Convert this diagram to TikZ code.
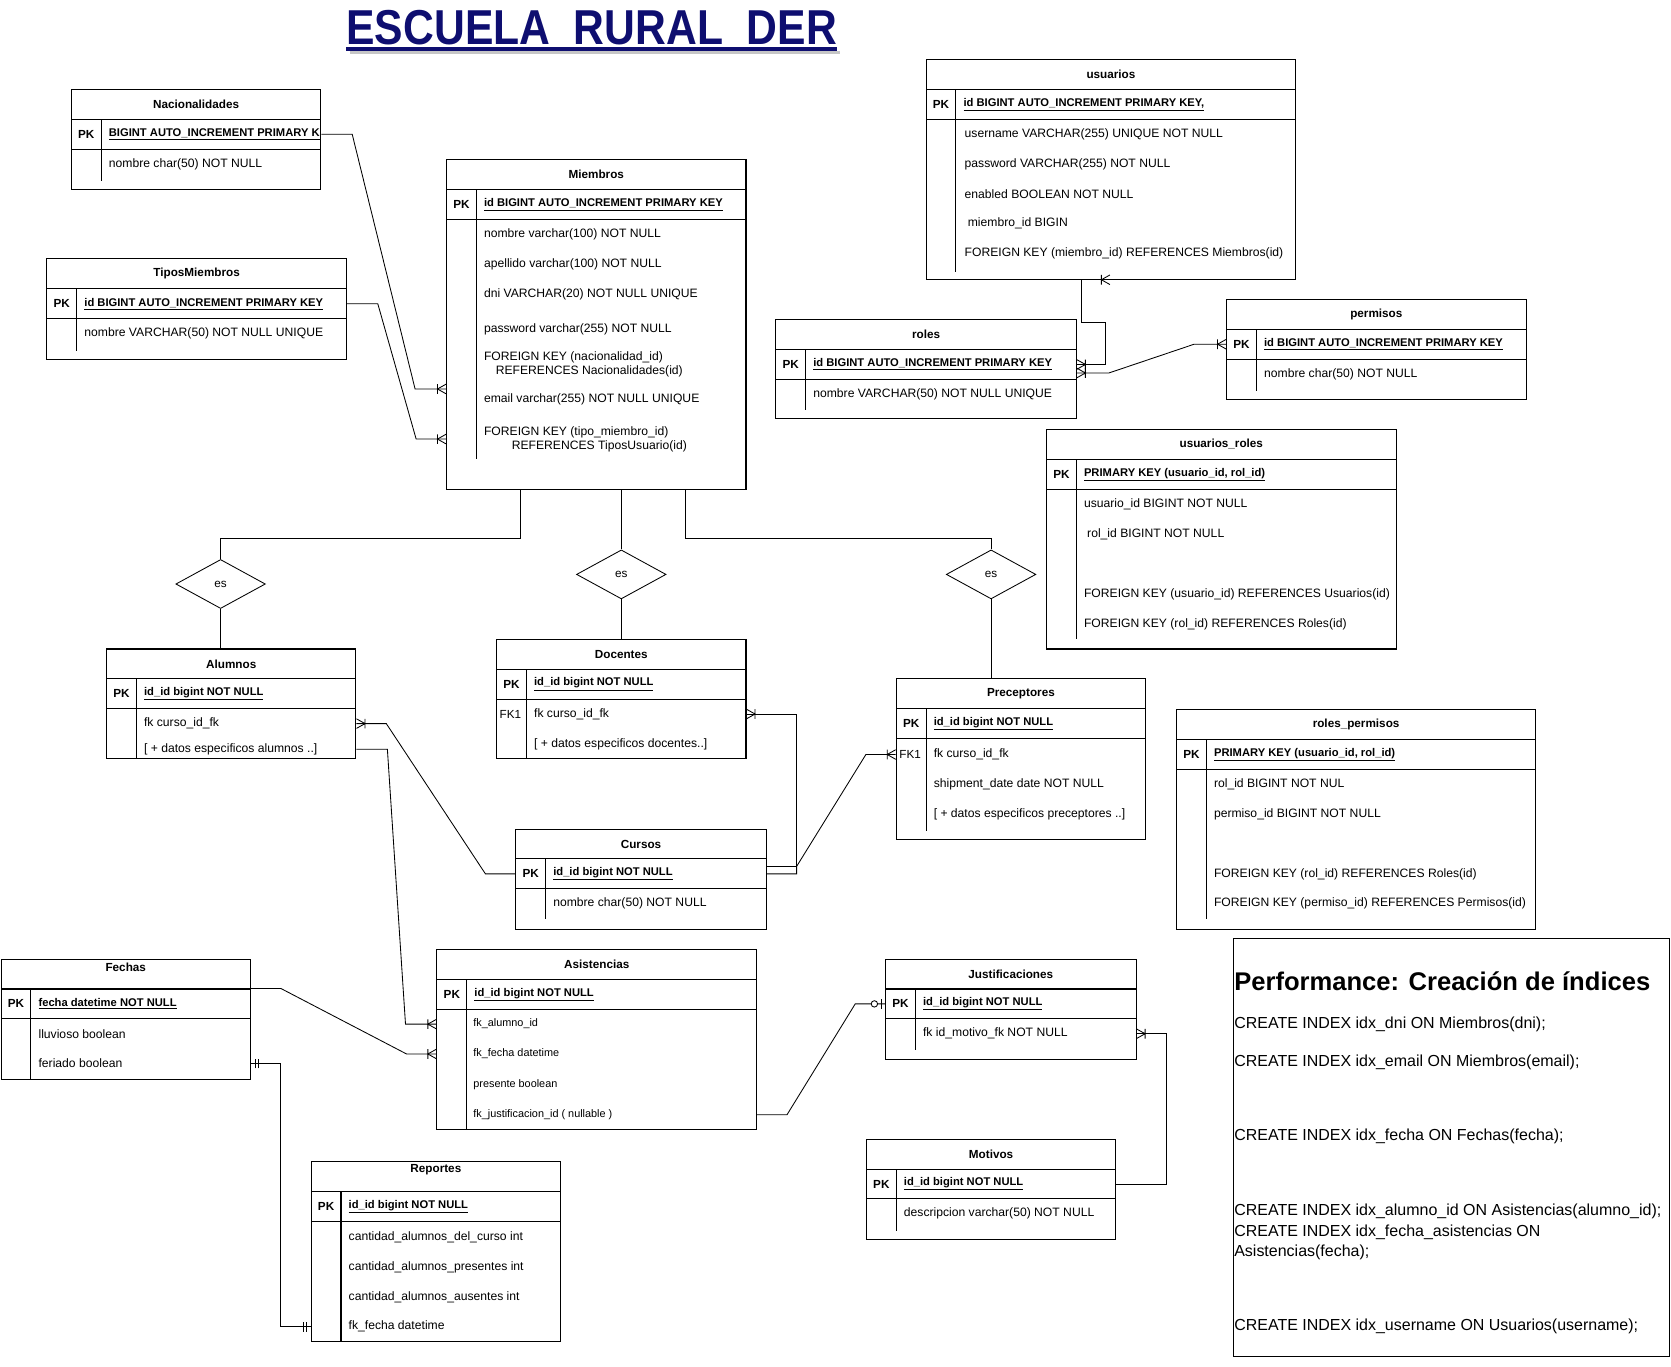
\documentclass[tikz,border=0pt]{standalone}
\usepackage{fontspec}
\setmainfont{Liberation Sans}
\usetikzlibrary{calc,shapes.geometric,arrows.meta}

\definecolor{azul}{RGB}{14,14,112}

% marcas de cardinalidad
\pgfdeclarearrow{
  name = muchos,
  setup code = {
    \pgfarrowssettipend{0pt}
    \pgfarrowssetlineend{0pt}
    \pgfarrowssetbackend{-9pt}
    \pgfarrowsupperhullpoint{0pt}{5pt}
    \pgfarrowsupperhullpoint{-9pt}{5pt}
  },
  drawing code = {
    \pgfsetdash{}{0pt}
    \pgfpathmoveto{\pgfpoint{0pt}{4.5pt}}
    \pgfpathlineto{\pgfpoint{-8pt}{0pt}}
    \pgfpathlineto{\pgfpoint{0pt}{-4.5pt}}
    \pgfpathmoveto{\pgfpoint{-8pt}{4.5pt}}
    \pgfpathlineto{\pgfpoint{-8pt}{-4.5pt}}
    \pgfusepathqstroke
  }
}
\pgfdeclarearrow{
  name = uno,
  setup code = {
    \pgfarrowssettipend{0pt}
    \pgfarrowssetlineend{0pt}
    \pgfarrowssetbackend{-8pt}
    \pgfarrowsupperhullpoint{0pt}{5pt}
    \pgfarrowsupperhullpoint{-8pt}{5pt}
  },
  drawing code = {
    \pgfsetdash{}{0pt}
    \pgfpathmoveto{\pgfpoint{-4pt}{4.5pt}}
    \pgfpathlineto{\pgfpoint{-4pt}{-4.5pt}}
    \pgfpathmoveto{\pgfpoint{-7pt}{4.5pt}}
    \pgfpathlineto{\pgfpoint{-7pt}{-4.5pt}}
    \pgfusepathqstroke
  }
}
\pgfdeclarearrow{
  name = ceroouno,
  setup code = {
    \pgfarrowssettipend{0pt}
    \pgfarrowssetlineend{0pt}
    \pgfarrowssetbackend{-14pt}
    \pgfarrowsupperhullpoint{0pt}{5pt}
    \pgfarrowsupperhullpoint{-14pt}{5pt}
  },
  drawing code = {
    \pgfsetdash{}{0pt}
    \pgfpathmoveto{\pgfpoint{-3pt}{4.5pt}}
    \pgfpathlineto{\pgfpoint{-3pt}{-4.5pt}}
    \pgfusepathqstroke
    \pgfsetfillcolor{white}
    \pgfpathcircle{\pgfpoint{-10pt}{0pt}}{3pt}
    \pgfusepathqfillstroke
  }
}

\tikzset{
  caja/.style={draw, line width=1pt, inner sep=0pt},
  raya/.style={line width=1pt},
  rel/.style={line width=0.8pt},
  titulo/.style={font=\bfseries\fontsize{11}{13}\selectfont},
  pkl/.style={font=\bfseries\fontsize{11}{13}\selectfont},
  pkt/.style={anchor=west, inner sep=0pt, font=\bfseries\fontsize{10.5}{13}\selectfont},
  campo/.style={anchor=west, inner sep=0pt, align=left, font=\fontsize{11.4}{13}\selectfont},
  chico/.style={font=\fontsize{10.2}{12}\selectfont},
  fk/.style={inner sep=0pt, font=\fontsize{11}{13}\selectfont},
  es/.style={diamond, draw, line width=0.8pt, minimum width=84pt, minimum height=46pt,
    inner sep=0pt, aspect=1.8, font=\fontsize{11}{13}\selectfont},
  idx/.style={anchor=west, inner sep=0pt, align=left, font=\fontsize{15}{19}\selectfont},
}

% tabla: [alto titulo] nombre, x, y, ancho, alto, titulo, clave, fin divisor
\newcommand{\entidad}[9][14]{%
  \node[caja, minimum width=#5pt, minimum height=#6pt] (#2) at (#3+#5/2,#4+#6/2) {};
  \node[titulo] (#2-t) at (#3+#5/2,#4+#1) {#7};
  \draw[raya] (#3,#4+28) -- ++(#5,0);
  \draw[raya] (#3,#4+56) -- ++(#5,0);
  \draw[raya] (#3+28,#4+28) -- (#3+28,#4+#9);
  \node[pkl] (#2-pkl) at (#3+14,#4+42) {PK};
  \node[pkt] (#2-pk) at (#3+35,#4+42) {\underline{#8}};
}
\newcommand{\fila}[5][]{\node[campo,#1] (#2) at (#3,#4) {#5};}

\begin{document}
\begin{tikzpicture}[x=1pt,y=-1pt]
\useasboundingbox (0,0) rectangle (1568,1282);

% titulo
\node[font=\bfseries\fontsize{46}{50}\selectfont, text=azul, xscale=0.87, inner sep=0pt, anchor=base west]
  (titulo) at (325,42) {ESCUELA\ \ RURAL\ \ DER};
\draw[gray!45, line width=3pt] ($(titulo.base west)+(3,7.5)$) -- ($(titulo.base east)+(3,7.5)$);
\draw[azul, line width=3.5pt] ($(titulo.base west)+(0,4)$) -- ($(titulo.base east)+(0,4)$);

% tablas
\entidad{nac}{67}{84}{234}{94}{Nacionalidades}{BIGINT AUTO\_INCREMENT PRIMARY K}{86}
\fila{nac-1}{102}{154}{nombre char(50) NOT NULL}

\entidad{tip}{44}{243}{281}{94}{TiposMiembros}{id BIGINT AUTO\_INCREMENT PRIMARY KEY}{86}
\fila{tip-1}{79}{313}{nombre VARCHAR(50) NOT NULL UNIQUE}

\entidad{miem}{419}{150}{281}{309}{Miembros}{id BIGINT AUTO\_INCREMENT PRIMARY KEY}{281}
\fila{miem-1}{454}{220}{nombre varchar(100) NOT NULL}
\fila{miem-2}{454}{248}{apellido varchar(100) NOT NULL}
\fila{miem-3}{454}{276}{dni VARCHAR(20) NOT NULL UNIQUE}
\fila{miem-4}{454}{309}{password varchar(255) NOT NULL}
\fila{miem-5}{454}{341.5}{FOREIGN KEY (nacionalidad\_id)\\\hspace*{11pt}REFERENCES Nacionalidades(id)}
\fila{miem-6}{454}{375}{email varchar(255) NOT NULL UNIQUE}
\fila{miem-7}{454}{412}{FOREIGN KEY (tipo\_miembro\_id)\\\hspace*{26pt}REFERENCES TiposUsuario(id)}

\entidad{usu}{869}{56}{347}{206}{usuarios}{id BIGINT AUTO\_INCREMENT PRIMARY KEY,}{199}
\fila{usu-1}{905}{126}{username VARCHAR(255) UNIQUE NOT NULL}
\fila{usu-2}{905}{154}{password VARCHAR(255) NOT NULL}
\fila{usu-3}{905}{182}{enabled BOOLEAN NOT NULL}
\fila{usu-4}{908}{210}{miembro\_id BIGIN}
\fila{usu-5}{905}{238}{FOREIGN KEY (miembro\_id) REFERENCES Miembros(id)}

\entidad{rol}{728}{300}{282}{93}{roles}{id BIGINT AUTO\_INCREMENT PRIMARY KEY}{85}
\fila{rol-1}{763}{370}{nombre VARCHAR(50) NOT NULL UNIQUE}

\entidad{perm}{1151}{281}{281}{94}{permisos}{id BIGINT AUTO\_INCREMENT PRIMARY KEY}{86}
\fila{perm-1}{1186}{351}{nombre char(50) NOT NULL}

\entidad{ur}{982}{403}{328}{206}{usuarios\_roles}{PRIMARY KEY (usuario\_id, rol\_id)}{197}
\fila{ur-1}{1017}{473}{usuario\_id BIGINT NOT NULL}
\fila{ur-2}{1020}{501}{rol\_id BIGINT NOT NULL}
\fila{ur-3}{1017}{558}{FOREIGN KEY (usuario\_id) REFERENCES Usuarios(id)}
\fila{ur-4}{1017}{586}{FOREIGN KEY (rol\_id) REFERENCES Roles(id)}

\entidad{alu}{100}{609}{234}{103}{Alumnos}{id\_id bigint NOT NULL}{103}
\fila{alu-1}{135}{679}{fk curso\_id\_fk}
\fila{alu-2}{135}{703}{[ + datos especificos alumnos ..]}

\entidad{doc}{466}{600}{234}{112}{Docentes}{id\_id bigint NOT NULL}{112}
\node[fk] (doc-fk) at (479,670) {FK1};
\fila{doc-1}{501}{670}{fk curso\_id\_fk}
\fila{doc-2}{501}{698}{[ + datos especificos docentes..]}

\entidad{pre}{841}{637}{234}{151}{Preceptores}{id\_id bigint NOT NULL}{143}
\node[fk] (pre-fk) at (854,708) {FK1};
\fila{pre-1}{876}{708}{fk curso\_id\_fk}
\fila{pre-2}{876}{736}{shipment\_date date NOT NULL}
\fila{pre-3}{876}{764}{[ + datos especificos preceptores ..]}

\entidad{rp}{1104}{666}{337}{206}{roles\_permisos}{PRIMARY KEY (usuario\_id, rol\_id)}{196}
\fila{rp-1}{1139}{736}{rol\_id BIGINT NOT NUL}
\fila{rp-2}{1139}{764}{permiso\_id BIGINT NOT NULL}
\fila{rp-3}{1139}{820}{FOREIGN KEY (rol\_id) REFERENCES Roles(id)}
\fila{rp-4}{1139}{848}{FOREIGN KEY (permiso\_id) REFERENCES Permisos(id)}

\entidad{cur}{484}{778}{235}{94}{Cursos}{id\_id bigint NOT NULL}{84}
\fila{cur-1}{519}{848}{nombre char(50) NOT NULL}

\entidad[8]{fec}{1}{900}{234}{113}{Fechas}{fecha datetime NOT NULL}{113}
\fila{fec-1}{36}{970}{lluvioso boolean}
\fila{fec-2}{36}{998}{feriado boolean}

\entidad{asi}{410}{891}{300}{169}{Asistencias}{id\_id bigint NOT NULL}{169}
\fila[chico]{asi-1}{444}{961}{fk\_alumno\_id}
\fila[chico]{asi-2}{444}{989}{fk\_fecha datetime}
\fila[chico]{asi-3}{444}{1018}{presente boolean}
\fila[chico]{asi-4}{444}{1046}{fk\_justificacion\_id ( nullable )}

\entidad{jus}{831}{900}{235}{94}{Justificaciones}{id\_id bigint NOT NULL}{85}
\fila{jus-1}{866}{970}{fk id\_motivo\_fk NOT NULL}

\entidad{mot}{813}{1069}{234}{94}{Motivos}{id\_id bigint NOT NULL}{86}
\fila{mot-1}{848}{1139}{descripcion varchar(50) NOT NULL}

\entidad[8]{rep}{292}{1090}{234}{169}{Reportes}{id\_id bigint NOT NULL}{169}
\fila{rep-1}{327}{1161}{cantidad\_alumnos\_del\_curso int}
\fila{rep-2}{327}{1189}{cantidad\_alumnos\_presentes int}
\fila{rep-3}{327}{1217}{cantidad\_alumnos\_ausentes int}
\fila{rep-4}{327}{1245}{fk\_fecha datetime}

% especializacion
\node[es] (es1) at (207,548) {es};
\node[es] (es2) at (583,539) {es};
\node[es] (es3) at (930,539) {es};
\draw[rel] ($(miem.south west)+(70,0)$) -- ++(0,46) -| (es1.north);
\draw[rel] (es2.north |- miem.south) -- (es2.north);
\draw[rel] ($(miem.south west)+(225,0)$) -- ++(0,46) -| (es3.north);
\draw[rel] (es1.south) -- (es1.south |- alu.north);
\draw[rel] (es2.south) -- (es2.south |- doc.north);
\draw[rel] (es3.south) -- (es3.south |- pre.north);

% relaciones
\draw[rel,-{muchos}] (nac.east |- nac-pk) -- ++(29,0)
  -- ($(miem.west |- miem-6)+(-29,-10)$) -- ($(miem.west |- miem-6)+(0,-10)$);
\draw[rel,-{muchos}] (tip.east |- tip-pk) -- ++(29,0)
  -- ($(miem.west |- miem-7)+(-28,0)$) -- (miem.west |- miem-7);
\draw[rel,{muchos}-{muchos}] ($(usu.south west)+(173,0)$) -- ($(usu.south west)+(146,0)$)
  -- ++(0,40) -- ++(23,0) |- (rol.east |- rol-pk);
\draw[rel,{muchos}-{muchos}] ($(rol.east |- rol-pk)+(0,8)$) -- ++(30,0)
  -- ($(perm.west |- perm-pk)+(-30,0)$) -- (perm.west |- perm-pk);
\draw[rel,{muchos}-] (alu.east |- alu-1) -- ++(28,0)
  -- ($(cur.west |- cur-pk)+(-28,0)$) -- (cur.west |- cur-pk);
\draw[rel,-{muchos}] (alu.east |- alu-2) -- ++(29,0)
  -- ($(asi.west |- asi-1)+(-29,0)$) -- (asi.west |- asi-1);
\draw[rel,{muchos}-] (doc.east |- doc-1) -- ++(47,0) |- ($(cur.east |- cur-pk)+(0,-7)$);
\draw[rel,{muchos}-] (pre.west |- pre-1) -- ++(-28,0)
  -- ($(cur.east |- cur-pk)+(28,-7)$) -- ++(0,7) -- (cur.east |- cur-pk);
\draw[rel,-{muchos}] ($(fec.north east)+(0,28)$) -- ++(28,0)
  -- ($(asi.west |- asi-2)+(-28,0)$) -- (asi.west |- asi-2);
\draw[rel,{uno}-{uno}] (fec.east |- fec-2) -- ++(28,0) |- (rep.west |- rep-4);
\draw[rel,-{ceroouno}] (asi.east |- asi-4) -- ++(28,0)
  -- ($(jus.west |- jus-pk)+(-28,0)$) -- (jus.west |- jus-pk);
\draw[rel,{muchos}-] (jus.east |- jus-1) -- ++(28,0) |- (mot.east |- mot-pk);

% indices
\node[caja, minimum width=409pt, minimum height=392pt, anchor=north west] (perf) at (1157,880) {};
\node[anchor=west, inner sep=0pt, font=\bfseries\fontsize{24}{28}\selectfont]
  (perf-t) at (1158,921) {Performance: Creación de índices};
\node[idx] (idx1) at (1158,961) {CREATE INDEX idx\_dni ON Miembros(dni);};
\node[idx] (idx2) at (1158,997) {CREATE INDEX idx\_email ON Miembros(email);};
\node[idx] (idx3) at (1158,1066) {CREATE INDEX idx\_fecha ON Fechas(fecha);};
\node[idx] (idx4) at (1158,1156) {CREATE INDEX idx\_alumno\_id ON Asistencias(alumno\_id);\\
  CREATE INDEX idx\_fecha\_asistencias ON\\Asistencias(fecha);};
\node[idx] (idx5) at (1158,1245) {CREATE INDEX idx\_username ON Usuarios(username);};
\end{tikzpicture}
\end{document}
